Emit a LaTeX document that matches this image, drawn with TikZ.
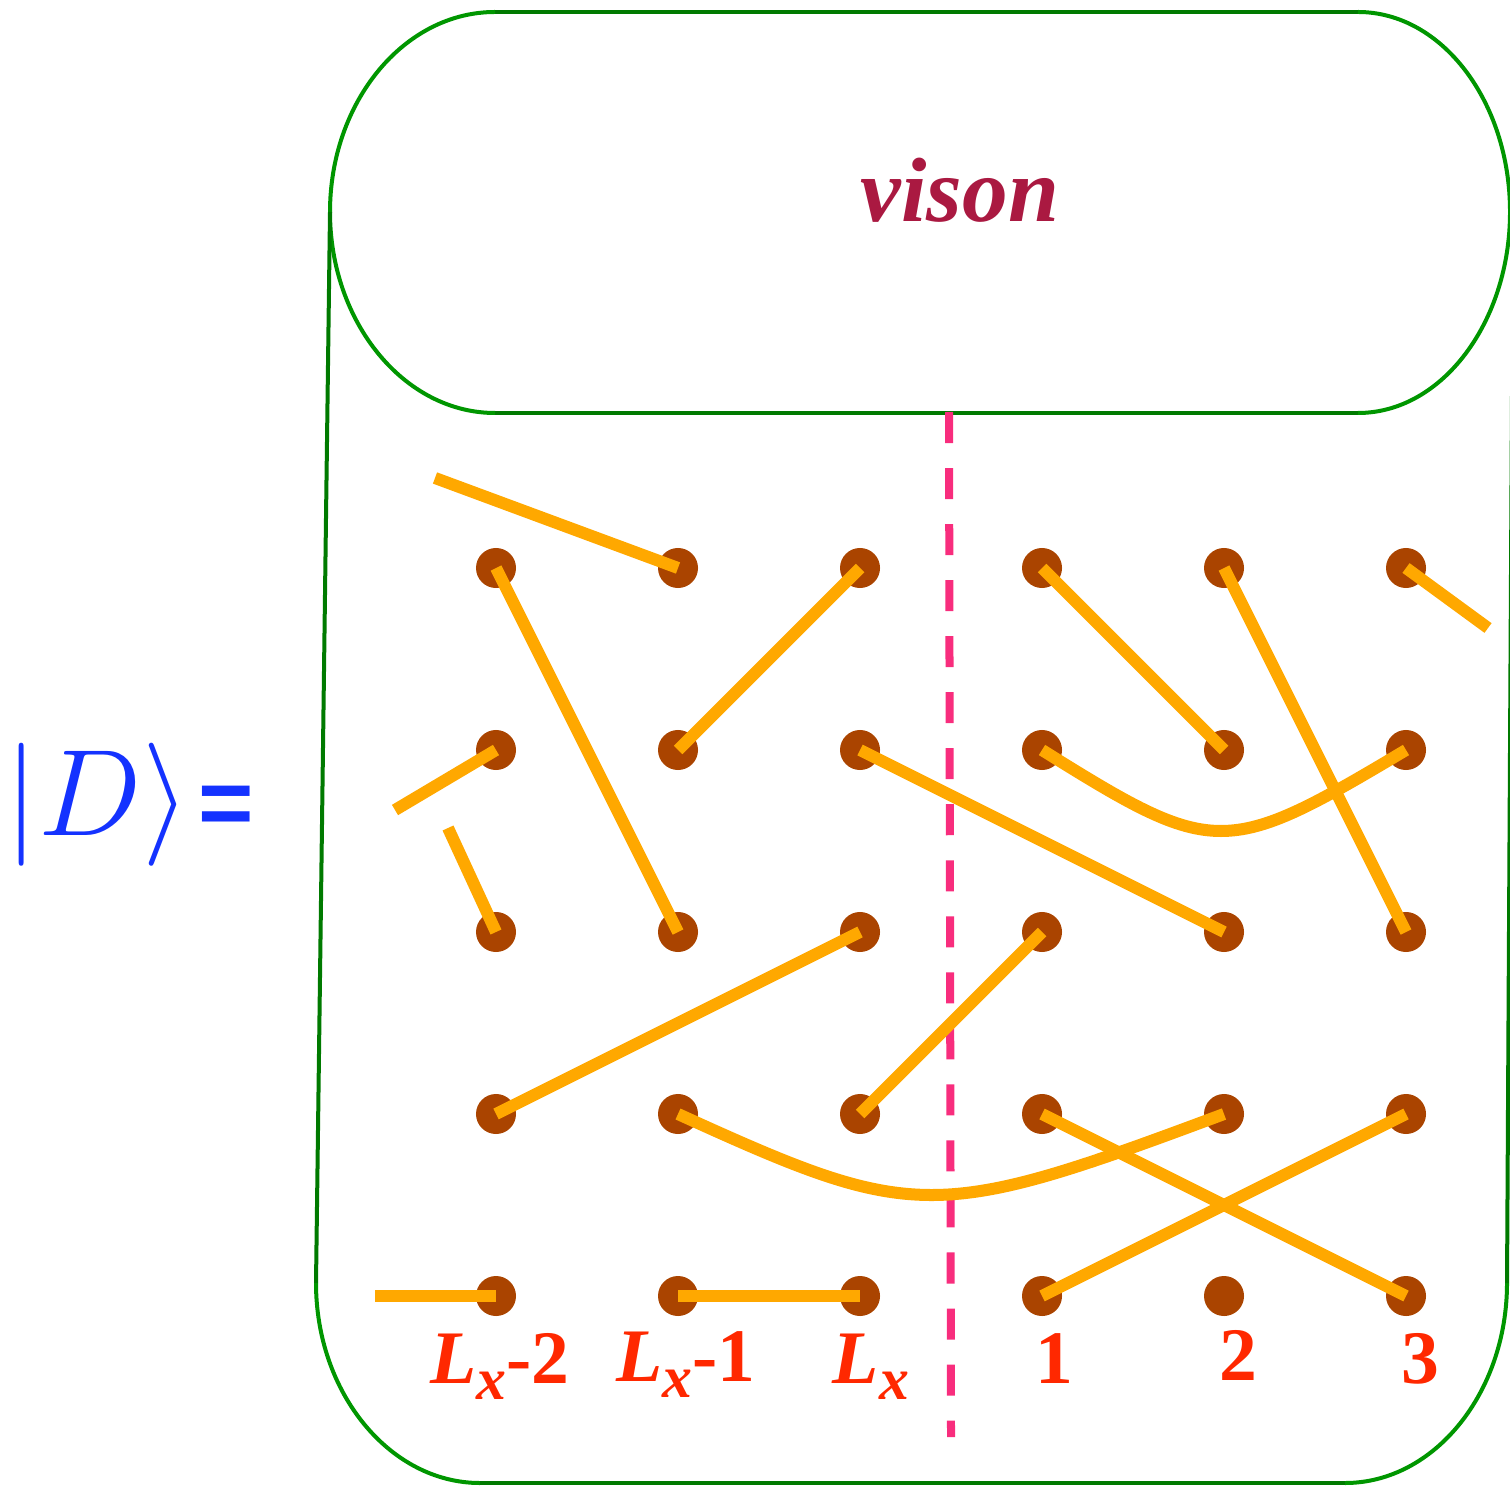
\RequirePackage{fix-cm}
\documentclass[tikz,border=0pt]{standalone}
\usepackage{fontspec}
\setmainfont{Liberation Serif}
\newfontfamily\eqfont{Liberation Sans}
\usetikzlibrary{positioning}

\definecolor{sitebrown}{RGB}{170,68,0}
\definecolor{dimerorange}{RGB}{255,168,0}
\definecolor{indexred}{RGB}{255,40,0}
\definecolor{visonred}{RGB}{170,25,65}
\definecolor{cutpink}{RGB}{248,45,125}
\definecolor{ketblue}{RGB}{20,50,255}
\definecolor{wallgreen}{RGB}{0,122,0}
\definecolor{arcgreen}{RGB}{0,150,0}

\newcommand{\Lx}{\textit{L}\raisebox{-4.8pt}{\fontsize{17}{17}\selectfont\textit{x}}}

\begin{document}
\begin{tikzpicture}[x=0.01cm, y=-0.01cm,
    site/.style={circle, fill=sitebrown, minimum size=0.4cm, inner sep=0pt},
    dimer/.style={draw=dimerorange, line width=0.12cm},
    wall/.style={draw=wallgreen, line width=0.04cm},
    arcwall/.style={draw=arcgreen, line width=0.04cm},
    cut/.style={draw=cutpink, line width=0.08cm, dash pattern=on 0.31cm off 0.25cm},
    index/.style={text=indexred, font=\fontsize{21.5}{24}\selectfont\bfseries, anchor=base}]
\useasboundingbox (0,0) rectangle (1510,1486);

% vison box and outer region
\draw[wall] (495,12) -- (1358,12);
\draw[wall] (495,413) -- (1358,413);
\draw[arcwall] (495,12) .. controls (404,12) and (330,102) .. (330,212)
               .. controls (330,322) and (404,413) .. (495,413);
\draw[arcwall] (1358,12) .. controls (1442,12) and (1510,102) .. (1510,212)
               .. controls (1510,322) and (1442,413) .. (1358,413);
\draw[wall] (330,212) -- (316,1283);
\draw[arcwall] (316,1283) .. controls (316,1393) and (390,1483) .. (480,1483);
\draw[wall] (480,1483) -- (1345,1483);
\draw[arcwall] (1345,1483) .. controls (1434,1483) and (1507,1393) .. (1507,1283);
\draw[wall] (1507,1283) -- (1513,212);
\node[text=visonred, font=\fontsize{26}{30}\selectfont\bfseries\itshape] (vison) at (960,190) {vison};

\node[text=ketblue, font=\fontsize{35}{40}\selectfont, inner sep=0pt, anchor=west] (ket) at (4,805)
    {$\big|D\big\rangle$\hspace{0.08cm}{\eqfont\fontsize{27}{30}\selectfont\bfseries =}};

% sites
\foreach \c in {1,...,6}
  \foreach \r in {1,...,5}
    \node[site] (s\c\r) at ({314+182*\c},{386+182*\r}) {};

\coordinate (cut top) at (949,412);
\coordinate (cut bot) at (951,1437);
\draw[cut] (cut top) -- (cut bot);

% dimers
\coordinate (e1) at (435,478);
\coordinate (e2) at (395,810);
\coordinate (e3) at (448,828);
\coordinate (e4) at (1488,628);
\coordinate (e5) at (375,1296);
\draw[dimer] (e1) -- (s21.center);
\draw[dimer] (s11.center) -- (s23.center);
\draw[dimer] (s22.center) -- (s31.center);
\draw[dimer] (e2) -- (s12.center);
\draw[dimer] (e3) -- (s13.center);
\draw[dimer] (s32.center) -- (s53.center);
\draw[dimer] (s41.center) -- (s52.center);
\draw[dimer] (s51.center) -- (s63.center);
\draw[dimer] (s61.center) -- (e4);
\draw[dimer] (s42.center) .. controls (1215,858) and (1225,858) .. (s62.center);
\draw[dimer] (s14.center) -- (s33.center);
\draw[dimer] (s34.center) -- (s43.center);
\draw[dimer] (s24.center) .. controls (915,1222) and (935,1222) .. (s54.center);
\draw[dimer] (s44.center) -- (s65.center);
\draw[dimer] (s64.center) -- (s45.center);
\draw[dimer] (e5) -- (s15.center);
\draw[dimer] (s25.center) -- (s35.center);

% column labels
\node[index] (ix1) at (500,1383) {\Lx-2};
\node[index] (ix2) at (686,1381) {\Lx-1};
\node[index] (ix3) at (871,1383) {\Lx};
\node[index] (ix4) at (1054,1383) {1};
\node[index] (ix5) at (1238,1380) {2};
\node[index] (ix6) at (1420,1383) {3};
\end{tikzpicture}
\end{document}
